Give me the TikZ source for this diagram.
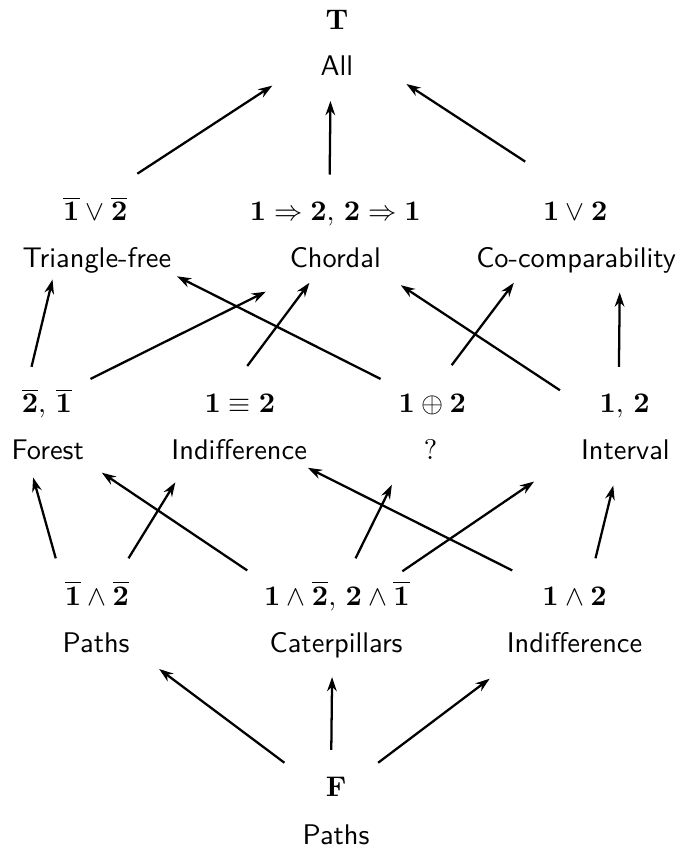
\documentclass[tikz,border=0pt]{standalone}
\usepackage{amsmath}
\usetikzlibrary{arrows.meta}

\begin{document}
\begin{tikzpicture}[line width=0.8pt,>={Stealth[length=5pt,width=3.4pt]},
  fml/.style={anchor=base,inner sep=0pt},
  nme/.style={anchor=base,inner sep=0pt,font=\sffamily}]
  \useasboundingbox (0,0) rectangle (8.46,10.52);
  % cima
  \node[fml] (all-f) at (4.17,10.16) {$\mathbf{T}$};
  \node[nme] (all) at (4.17,9.58) {All};
  % fila 1
  \node[fml] (trifree-f) at (1.18,7.79) {$\overline{\mathbf{1}}\vee\overline{\mathbf{2}}$};
  \node[nme] (trifree) at (1.20,7.21) {Triangle-free};
  \node[fml] (chordal-f) at (4.15,7.79) {$\mathbf{1}\Rightarrow\mathbf{2},\,\mathbf{2}\Rightarrow\mathbf{1}$};
  \node[nme] (chordal) at (4.15,7.21) {Chordal};
  \node[fml] (cocomp-f) at (7.12,7.79) {$\mathbf{1}\vee\mathbf{2}$};
  \node[nme] (cocomp) at (7.13,7.21) {Co-comparability};
  % fila 2
  \node[fml] (forest-f) at (0.58,5.41) {$\overline{\mathbf{2}},\,\overline{\mathbf{1}}$};
  \node[nme] (forest) at (0.59,4.83) {Forest};
  \node[fml] (indiff-f) at (2.97,5.41) {$\mathbf{1}\equiv\mathbf{2}$};
  \node[nme] (indiff) at (2.96,4.83) {Indifference};
  \node[fml] (unknown-f) at (5.35,5.41) {$\mathbf{1}\oplus\mathbf{2}$};
  \node[nme] (unknown) at (5.33,4.83) {$?$};
  \node[fml] (interval-f) at (7.73,5.41) {$\mathbf{1},\,\mathbf{2}$};
  \node[nme] (interval) at (7.74,4.83) {Interval};
  % fila 3
  \node[fml] (paths-f) at (1.20,3.03) {$\overline{\mathbf{1}}\wedge\overline{\mathbf{2}}$};
  \node[nme] (paths) at (1.19,2.45) {Paths};
  \node[fml] (cater-f) at (4.17,3.03) {$\mathbf{1}\wedge\overline{\mathbf{2}},\,\mathbf{2}\wedge\overline{\mathbf{1}}$};
  \node[nme] (cater) at (4.16,2.45) {Caterpillars};
  \node[fml] (indiffb-f) at (7.11,3.03) {$\mathbf{1}\wedge\mathbf{2}$};
  \node[nme] (indiffb) at (7.11,2.45) {Indifference};
  % fondo
  \node[fml] (pathsb-f) at (4.16,0.66) {$\mathbf{F}$};
  \node[nme] (pathsb) at (4.16,0.07) {Paths};
  % hacia All
  \draw[->] ([shift={(0.52,0.58)}]trifree-f.base) -- ([shift={(-0.80,-0.12)}]all.base);
  \draw[->] ([shift={(-0.07,0.57)}]chordal-f.base) -- ([shift={(-0.08,-0.31)}]all.base);
  \draw[->] ([shift={(-0.62,0.73)}]cocomp-f.base) -- ([shift={(0.86,-0.10)}]all.base);
  % fila 2 a fila 1
  \draw[->] ([shift={(-0.19,0.57)}]forest-f.base) -- ([shift={(-0.55,-0.15)}]trifree.base);
  \draw[->] ([shift={(0.54,0.42)}]forest-f.base) -- ([shift={(-0.86,-0.30)}]chordal.base);
  \draw[->] ([shift={(0.09,0.58)}]indiff-f.base) -- ([shift={(-0.32,-0.19)}]chordal.base);
  \draw[->] ([shift={(-0.64,0.42)}]unknown-f.base) -- ([shift={(0.99,-0.11)}]trifree.base);
  \draw[->] ([shift={(0.24,0.59)}]unknown-f.base) -- ([shift={(-0.77,-0.19)}]cocomp.base);
  \draw[->] ([shift={(-0.80,0.28)}]interval-f.base) -- ([shift={(0.81,-0.22)}]chordal.base);
  \draw[->] ([shift={(-0.07,0.57)}]interval-f.base) -- ([shift={(0.54,-0.31)}]cocomp.base);
  % fila 3 a fila 2
  \draw[->] ([shift={(-0.51,0.58)}]paths-f.base) -- ([shift={(-0.18,-0.22)}]forest.base);
  \draw[->] ([shift={(0.39,0.58)}]paths-f.base) -- ([shift={(-0.79,-0.28)}]indiff.base);
  \draw[->] ([shift={(-1.11,0.43)}]cater-f.base) -- ([shift={(0.67,-0.16)}]forest.base);
  \draw[->] ([shift={(0.23,0.58)}]cater-f.base) -- ([shift={(-0.48,-0.31)}]unknown.base);
  \draw[->] ([shift={(0.81,0.42)}]cater-f.base) -- ([shift={(-1.13,-0.27)}]interval.base);
  \draw[->] ([shift={(-0.77,0.43)}]indiffb-f.base) -- ([shift={(0.85,-0.10)}]indiff.base);
  \draw[->] ([shift={(0.26,0.58)}]indiffb-f.base) -- ([shift={(-0.15,-0.32)}]interval.base);
  % desde F
  \draw[->] ([shift={(-0.64,0.42)}]pathsb-f.base) -- ([shift={(0.78,-0.21)}]paths.base);
  \draw[->] ([shift={(-0.06,0.58)}]pathsb-f.base) -- ([shift={(-0.05,-0.31)}]cater.base);
  \draw[->] ([shift={(0.52,0.42)}]pathsb-f.base) -- ([shift={(-1.05,-0.33)}]indiffb.base);
\end{tikzpicture}
\end{document}
